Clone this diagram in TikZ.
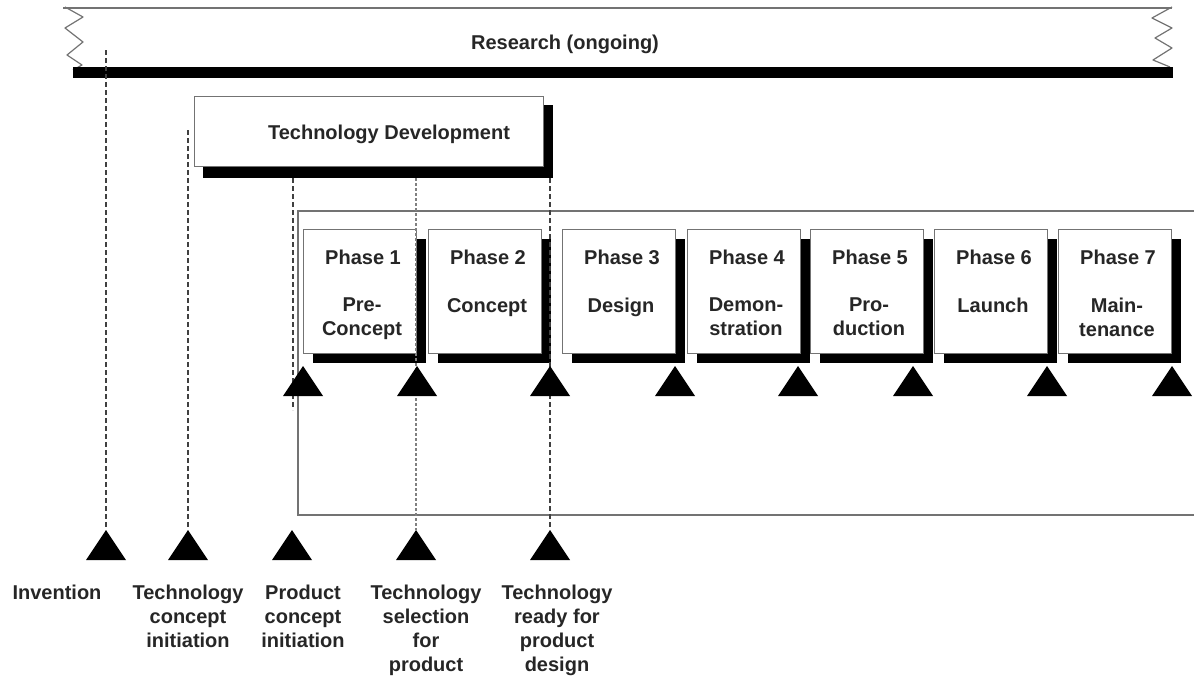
\documentclass[tikz,border=0pt]{standalone}
\usepackage{fontspec}
\setmainfont{Liberation Sans}
\begin{document}
\begin{tikzpicture}[x=1pt,y=-1pt,
  lbl/.style={font=\bfseries\fontsize{20}{24}\selectfont, inner sep=0pt, align=center, text=black!85},
  frameline/.style={draw=black!55, line width=1.3pt},
  panel/.style={fill=white, draw=black!55, line width=1.1pt},
  shade/.style={fill=black},
  milestone/.style={fill=black},
  guide/.style={draw=black!75, line width=1.4pt, dash pattern=on 5pt off 3pt},
  guidedot/.style={draw=black!50, line width=2.6pt, dash pattern=on 3pt off 2pt},
  zig/.style={draw=black!55, line width=1.2pt, line join=round}
]
\useasboundingbox (0,0) rectangle (1194,680);

% ---- ongoing research band ----
\draw[zig] (63,8) -- (1172,8);
\draw[zig] (65,7) -- (83,17) -- (65,28) -- (83,42) -- (67,55) -- (82,65) -- (73,70);
\draw[zig] (1172,7) -- (1152,18) -- (1172,28) -- (1155,38) -- (1172,48) -- (1153,60) -- (1170,67);
\fill (73,67) rectangle (1173,78);
\node[lbl, anchor=base] (research) at (565,49) {Research (ongoing)};

% ---- product development frame ----
\draw[frameline] (1194,211) -| (298,515) -- (1194,515);

% ---- technology development box ----
\fill[shade] (203,105) rectangle (553,178);
\node[panel, anchor=north west, minimum width=349pt, minimum height=70pt, inner sep=0pt] (td) at (194,96) {};
\node[lbl, anchor=base] (tdtext) at (389,139) {Technology Development};

% ---- phase boxes ----
\foreach \i/\x/\txt in {1/303/{Pre-\\Concept}, 2/428/{Concept}, 3/562/{Design},
                        4/687/{Demon-\\stration}, 5/810/{Pro-\\duction}, 6/934/{Launch},
                        7/1058/{Main-\\tenance}}{
  \fill[shade] (\x+10,239) rectangle (\x+123,363);
  \node[panel, anchor=north west, minimum width=113pt, minimum height=124pt, inner sep=0pt] (ph\i) at (\x,229) {};
  \node[lbl, anchor=north] (ph\i title) at (\x+60,250) {Phase \i};
  \node[lbl, anchor=north] (ph\i name) at (\x+59,298) {\txt};
}

% ---- milestone coordinates ----
\foreach \n/\x in {1/303, 2/417, 3/550, 4/675, 5/798, 6/913, 7/1047, 8/1172}
  \coordinate (g\n) at (\x,366);
\coordinate (inv) at (106,530);
\coordinate (tci) at (188,530);
\coordinate (pci) at (292,530);
\coordinate (tsp) at (416,530);
\coordinate (trd) at (550,530);

% ---- guide lines ----
\coordinate (invtop) at (106,50);
\coordinate (tcitop) at (188,130);
\coordinate (pcitop) at (293,178);
\coordinate (pciend) at (293,410);
\coordinate (tsptop) at (416,178);
\coordinate (trdtop) at (550,178);
\draw[guide] (invtop) -- (inv);
\draw[guide] (tcitop) -- (tci);
\draw[guide] (pcitop) -- (pciend);
\draw[guidedot] (tsptop) -- (tsp);
\draw[guide] (trdtop) -- (trd);

% ---- milestone triangles ----
\foreach \c in {g1,g2,g3,g4,g5,g6,g7,g8,inv,tci,pci,tsp,trd}
  \fill[milestone] (\c) -- ++(-20,30) -- ++(40,0) -- cycle;

% ---- milestone labels ----
\node[lbl, anchor=north] (invl) at (57,585) {Invention};
\node[lbl, anchor=north] (tcil) at (188,585) {Technology\\concept\\initiation};
\node[lbl, anchor=north] (pcil) at (303,585) {Product\\concept\\initiation};
\node[lbl, anchor=north] (tspl) at (426,585) {Technology\\selection\\for\\product};
\node[lbl, anchor=north] (trdl) at (557,585) {Technology\\ready for\\product\\design};
\end{tikzpicture}
\end{document}
